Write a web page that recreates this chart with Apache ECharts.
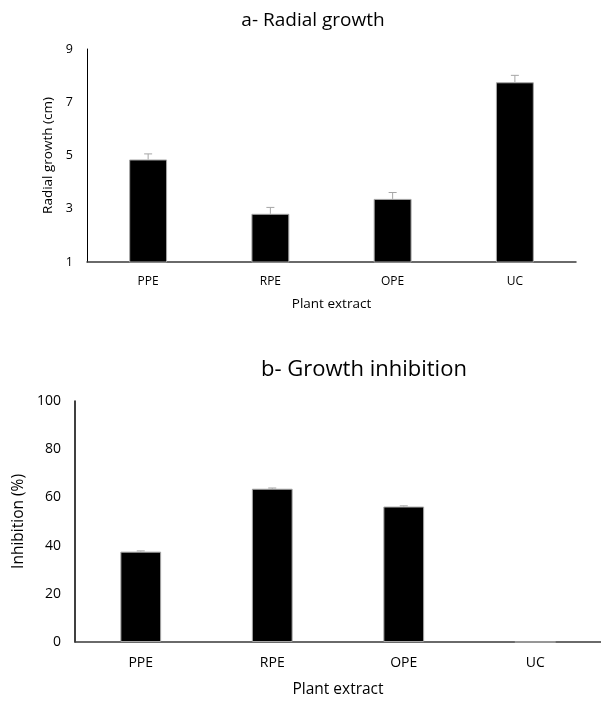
<!DOCTYPE html>
<html>
<head>
<meta charset="utf-8">
<script src="https://cdn.jsdelivr.net/npm/echarts@6/dist/echarts.min.js"></script>
<style>
  html, body { margin: 0; padding: 0; background: #fff; }
  #chart { width: 601px; height: 702px; }
</style>
</head>
<body>
<div id="chart"></div>
<script>
const extracts = ['PPE', 'RPE', 'OPE', 'UC'];
const radialGrowth = [4.85, 2.81, 3.37, 7.75];
const radialGrowthErr = [0.21, 0.24, 0.24, 0.26];
const inhibition = [37.5, 63.6, 56.2, 0];
const inhibitionErr = [0.3, 0.3, 0.3, 0];

const font = '"Open Sans", sans-serif';

// error bar: vertical stick + cap on top, drawn in axis coords
function errorBar(values, errs) {
  return function (params, api) {
    const i = api.value(0);
    if (!errs[i]) return null;
    const base = api.coord([i, values[i]]);
    const top = api.coord([i, values[i] + errs[i]]);
    const style = { stroke: '#a6a6a6', lineWidth: 1 };
    return {
      type: 'group',
      children: [
        { type: 'line', shape: { x1: base[0], y1: base[1], x2: top[0], y2: top[1] }, style },
        { type: 'line', shape: { x1: top[0] - 4, y1: top[1], x2: top[0] + 4, y2: top[1] }, style }
      ]
    };
  };
}

const myChart = echarts.init(document.getElementById('chart'));

const catAxis = (gridIndex, fs, nameFs, margin, gap) => ({
  type: 'category',
  gridIndex,
  data: extracts,
  name: 'Plant extract',
  nameLocation: 'middle',
  nameGap: gap,
  nameTextStyle: { color: '#000', fontFamily: font, fontSize: nameFs },
  axisLine: { lineStyle: { color: '#3a3a3a', width: 1.5 } },
  axisTick: { show: false },
  axisLabel: { color: '#000', fontFamily: font, fontSize: fs, margin }
});

const option = {
  animation: false,
  title: [
    {
      text: 'a- Radial growth',
      left: 308,
      top: 6,
      textAlign: 'center',
      textStyle: { color: '#000', fontFamily: font, fontSize: 19, fontWeight: 'normal' }
    },
    {
      text: 'b- Growth inhibition',
      left: 359,
      top: 354,
      textAlign: 'center',
      textStyle: { color: '#000', fontFamily: font, fontSize: 22, fontWeight: 'normal' }
    }
  ],
  grid: [
    { left: 87, right: 25, top: 49, height: 213 },
    { left: 75, right: -12, top: 401, height: 241 }
  ],
  xAxis: [
    catAxis(0, 12, 13.5, 14, 35),
    catAxis(1, 14, 15.5, 14, 40)
  ],
  yAxis: [
    {
      type: 'value',
      gridIndex: 0,
      min: 1,
      max: 9,
      interval: 2,
      name: 'Radial growth (cm)',
      nameLocation: 'middle',
      nameGap: 28,
      nameRotate: 90,
      nameTextStyle: { color: '#000', fontFamily: font, fontSize: 13.5 },
      axisLine: { show: true, lineStyle: { color: '#000', width: 1 } },
      axisTick: { show: false },
      splitLine: { show: false },
      axisLabel: { color: '#000', fontFamily: font, fontSize: 12.5, margin: 14 }
    },
    {
      type: 'value',
      gridIndex: 1,
      min: 0,
      max: 100,
      interval: 20,
      name: 'Inhibition (%)',
      nameLocation: 'middle',
      nameGap: 46,
      nameRotate: 90,
      nameTextStyle: { color: '#000', fontFamily: font, fontSize: 15.5 },
      axisLine: { show: true, lineStyle: { color: '#000', width: 1.5 } },
      axisTick: { show: false },
      splitLine: { show: false },
      axisLabel: { color: '#000', fontFamily: font, fontSize: 14, margin: 14 }
    }
  ],
  series: [
    {
      type: 'bar',
      xAxisIndex: 0,
      yAxisIndex: 0,
      data: radialGrowth,
      barWidth: '31%',
      itemStyle: { color: '#000', borderColor: '#a6a6a6', borderWidth: 1 }
    },
    {
      type: 'custom',
      xAxisIndex: 0,
      yAxisIndex: 0,
      data: extracts.map((c, i) => [i]),
      renderItem: errorBar(radialGrowth, radialGrowthErr),
      z: 3
    },
    {
      type: 'bar',
      xAxisIndex: 1,
      yAxisIndex: 1,
      data: inhibition,
      barWidth: '31%',
      itemStyle: { color: '#000', borderColor: '#a6a6a6', borderWidth: 1 }
    },
    {
      type: 'custom',
      xAxisIndex: 1,
      yAxisIndex: 1,
      data: extracts.map((c, i) => [i]),
      renderItem: errorBar(inhibition, inhibitionErr),
      z: 3
    }
  ]
};

myChart.setOption(option, true);
</script>
</body>
</html>
